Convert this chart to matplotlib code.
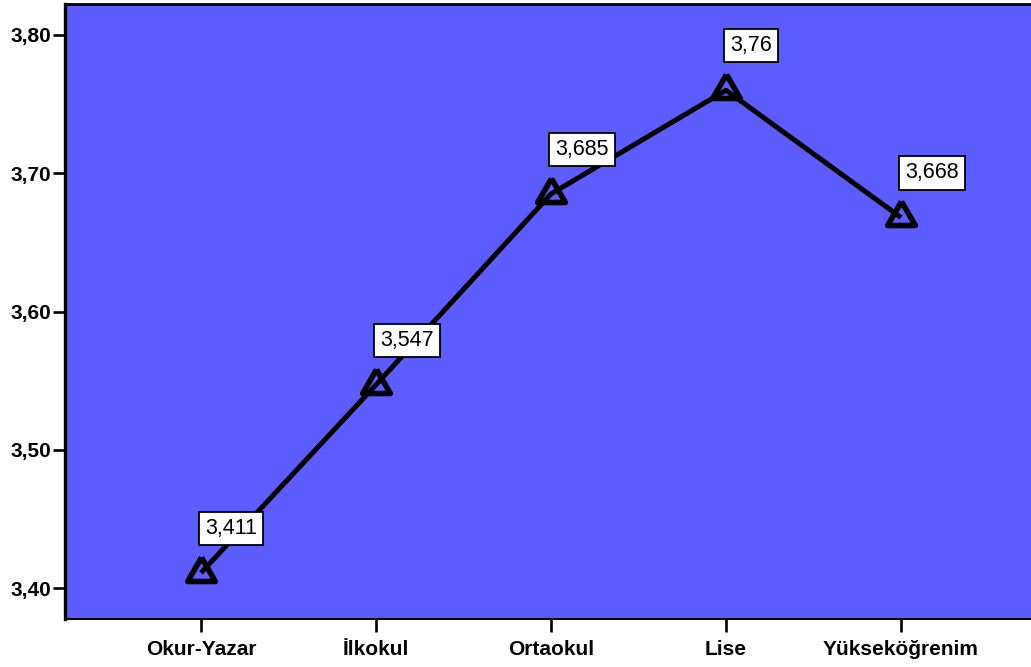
import matplotlib
matplotlib.use("Agg")
import matplotlib.pyplot as plt
import numpy as np

# Mean scores by education level
categories = ["Okur-Yazar", "İlkokul", "Ortaokul", "Lise", "Yükseköğrenim"]
means = [3.411, 3.547, 3.685, 3.76, 3.668]
value_labels = ["3,411", "3,547", "3,685", "3,76", "3,668"]
y_ticks = [3.40, 3.50, 3.60, 3.70, 3.80]
y_tick_labels = ["3,40", "3,50", "3,60", "3,70", "3,80"]

plt.rcParams["font.family"] = ["Liberation Sans", "DejaVu Sans"]

fig = plt.figure(figsize=(10.31, 6.67), dpi=100)
ax = fig.add_axes([65 / 1031, 1 - 619 / 667, 1 - 65 / 1031, (619 - 4) / 667])
ax.set_facecolor("#5c5cff")

# equilateral open triangle marker
tri = [(0, 0.577), (-0.5, -0.289), (0.5, -0.289), (0, 0.577)]

x = np.arange(len(categories))
ax.plot(x, means, color="black", lw=3.6, solid_capstyle="butt", zorder=3)
ax.plot(x, means, ls="none", marker=tri, ms=23, mfc="none", mec="black",
        mew=4.0, zorder=4)

for xi, yi, lab in zip(x, means, value_labels):
    ax.annotate(lab, (xi, yi), xytext=(4, 34), textcoords="offset pixels",
                ha="left", va="bottom", fontsize=15.5, color="black",
                bbox=dict(boxstyle="square,pad=0.28", fc="white", ec="black",
                          lw=1.3), zorder=5)

ax.set_xlim(-0.777, 4.743)
ax.set_ylim(3.3776, 3.8224)
ax.set_xticks(x)
ax.set_xticklabels(categories, fontsize=15, fontweight="bold")
ax.set_yticks(y_ticks)
ax.set_yticklabels(y_tick_labels, fontsize=15, fontweight="bold")

ax.tick_params(axis="y", length=9, width=1.9, pad=1)
ax.tick_params(axis="x", length=9, width=1.9, pad=6)

ax.spines["right"].set_visible(False)
ax.spines["left"].set_linewidth(2.4)
ax.spines["top"].set_linewidth(2.0)
ax.spines["bottom"].set_linewidth(1.4)

fig.savefig("out.png", dpi=100)
